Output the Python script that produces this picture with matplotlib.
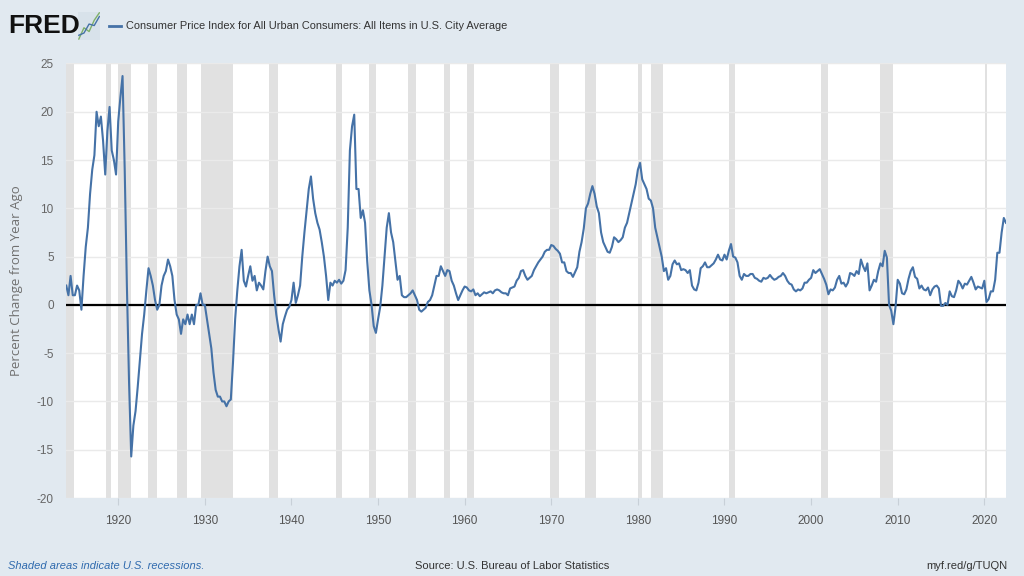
import numpy as np
import matplotlib.pyplot as plt
from matplotlib.lines import Line2D

plt.rcParams["axes.unicode_minus"] = False

# CPI-U, percent change from year ago, quarterly readings (Jan, Apr, Jul, Oct)
first_year = 1914
cpi_yoy = [
    2.0, 1.0, 3.0, 1.0,        # 1914
    1.0, 2.0, 1.5, -0.5,       # 1915
    3.0, 6.0, 8.0, 11.5,       # 1916
    14.0, 15.5, 20.0, 18.5,    # 1917
    19.5, 17.0, 13.5, 18.0,    # 1918
    20.5, 16.0, 15.0, 13.5,    # 1919
    19.0, 21.5, 23.7, 14.0,    # 1920
    2.0, -8.0, -15.7, -12.5,   # 1921
    -11.0, -8.5, -5.7, -3.0,   # 1922
    -1.0, 1.5, 3.8, 3.0,       # 1923
    2.0, 0.5, -0.5, 0.0,       # 1924
    2.0, 3.0, 3.5, 4.7,        # 1925
    4.0, 3.0, 0.5, -1.0,       # 1926
    -1.5, -3.0, -1.5, -2.0,    # 1927
    -1.0, -2.0, -1.0, -2.0,    # 1928
    0.0, 0.0, 1.2, 0.0,        # 1929
    0.0, -1.5, -3.0, -4.5,     # 1930
    -7.0, -8.8, -9.5, -9.5,    # 1931
    -10.0, -10.0, -10.5, -10.0,  # 1932
    -9.8, -6.0, -1.5, 1.5,     # 1933
    4.0, 5.7, 2.5, 1.9,        # 1934
    3.0, 4.0, 2.5, 3.0,        # 1935
    1.5, 2.3, 2.0, 1.6,        # 1936
    3.5, 5.0, 4.0, 3.5,        # 1937
    1.0, -1.0, -2.5, -3.8,     # 1938
    -2.0, -1.2, -0.5, -0.2,    # 1939
    0.5, 2.3, 0.2, 1.0,        # 1940
    2.0, 5.0, 7.5, 9.8,        # 1941
    12.0, 13.3, 11.0, 9.5,     # 1942
    8.5, 7.8, 6.5, 5.0,        # 1943
    3.0, 0.5, 2.3, 2.0,        # 1944
    2.5, 2.3, 2.6, 2.2,        # 1945
    2.5, 3.6, 8.0, 16.0,       # 1946
    18.5, 19.7, 12.0, 12.0,    # 1947
    9.0, 9.8, 8.5, 4.5,        # 1948
    1.5, 0.0, -2.2, -2.9,      # 1949
    -1.5, -0.2, 2.0, 5.0,      # 1950
    8.0, 9.5, 7.5, 6.5,        # 1951
    4.5, 2.6, 3.0, 1.0,        # 1952
    0.8, 0.8, 1.0, 1.2,        # 1953
    1.5, 1.0, 0.5, -0.5,       # 1954
    -0.7, -0.5, -0.3, 0.3,     # 1955
    0.5, 1.0, 2.0, 3.0,        # 1956
    3.0, 4.0, 3.5, 3.0,        # 1957
    3.6, 3.5, 2.5, 2.0,        # 1958
    1.2, 0.5, 1.0, 1.5,        # 1959
    1.9, 1.8, 1.5, 1.4,        # 1960
    1.6, 1.0, 1.2, 0.9,        # 1961
    1.1, 1.3, 1.2, 1.3,        # 1962
    1.4, 1.2, 1.5, 1.6,        # 1963
    1.5, 1.3, 1.2, 1.2,        # 1964
    1.0, 1.7, 1.8, 1.9,        # 1965
    2.5, 2.8, 3.5, 3.6,        # 1966
    3.0, 2.6, 2.8, 3.0,        # 1967
    3.6, 4.0, 4.4, 4.7,        # 1968
    5.0, 5.5, 5.7, 5.7,        # 1969
    6.2, 6.1, 5.8, 5.6,        # 1970
    5.3, 4.4, 4.4, 3.5,        # 1971
    3.3, 3.3, 2.9, 3.4,        # 1972
    3.9, 5.5, 6.5, 7.9,        # 1973
    10.0, 10.5, 11.5, 12.3,    # 1974
    11.5, 10.2, 9.5, 7.5,      # 1975
    6.5, 6.0, 5.5, 5.4,        # 1976
    6.0, 7.0, 6.8, 6.5,        # 1977
    6.7, 7.0, 8.0, 8.5,        # 1978
    9.5, 10.5, 11.5, 12.5,     # 1979
    14.0, 14.7, 13.0, 12.5,    # 1980
    12.0, 11.0, 10.8, 10.0,    # 1981
    8.0, 7.0, 6.0, 5.0,        # 1982
    3.5, 3.8, 2.6, 3.0,        # 1983
    4.2, 4.6, 4.2, 4.3,        # 1984
    3.6, 3.7, 3.6, 3.3,        # 1985
    3.6, 2.0, 1.6, 1.5,        # 1986
    2.3, 3.8, 4.0, 4.4,        # 1987
    3.9, 3.9, 4.1, 4.3,        # 1988
    4.7, 5.2, 4.7, 4.6,        # 1989
    5.2, 4.7, 5.6, 6.3,        # 1990
    5.0, 4.9, 4.4, 3.0,        # 1991
    2.6, 3.2, 3.0, 3.0,        # 1992
    3.2, 3.2, 2.8, 2.7,        # 1993
    2.5, 2.4, 2.8, 2.7,        # 1994
    2.8, 3.1, 2.8, 2.6,        # 1995
    2.7, 2.9, 3.0, 3.3,        # 1996
    3.0, 2.5, 2.2, 2.1,        # 1997
    1.6, 1.4, 1.6, 1.5,        # 1998
    1.7, 2.3, 2.3, 2.6,        # 1999
    2.8, 3.6, 3.3, 3.5,        # 2000
    3.7, 3.2, 2.7, 2.1,        # 2001
    1.1, 1.6, 1.5, 1.8,        # 2002
    2.6, 3.0, 2.2, 2.3,        # 2003
    1.9, 2.3, 3.3, 3.2,        # 2004
    3.0, 3.5, 3.2, 4.7,        # 2005
    4.0, 3.5, 4.3, 1.5,        # 2006
    2.0, 2.6, 2.4, 3.5,        # 2007
    4.3, 4.0, 5.6, 4.9,        # 2008
    0.0, -0.6, -2.0, -0.2,     # 2009
    2.6, 2.2, 1.2, 1.1,        # 2010
    1.6, 2.7, 3.5, 3.9,        # 2011
    2.9, 2.7, 1.7, 2.0,        # 2012
    1.6, 1.5, 1.8, 1.0,        # 2013
    1.6, 1.9, 2.0, 1.7,        # 2014
    -0.1, -0.1, 0.2, 0.0,      # 2015
    1.4, 0.9, 0.8, 1.5,        # 2016
    2.5, 2.2, 1.7, 2.2,        # 2017
    2.1, 2.5, 2.9, 2.3,        # 2018
    1.6, 1.9, 1.8, 1.7,        # 2019
    2.5, 0.3, 0.6, 1.4,        # 2020
    1.4, 2.6, 5.4, 5.4,        # 2021
    7.5, 9.0, 8.5,             # 2022
]
dates = first_year + np.arange(len(cpi_yoy)) / 4

# NBER recessions (decimal years)
rec_start = [1913.6, 1918.6, 1920.0, 1923.4, 1926.8, 1929.6, 1937.4, 1945.1, 1948.9,
             1953.5, 1957.6, 1960.3, 1969.9, 1973.9, 1980.0, 1981.5, 1990.5, 2001.2,
             2007.9, 2020.1]
rec_end = [1914.9, 1919.2, 1921.5, 1924.5, 1927.9, 1933.2, 1938.5, 1945.8, 1949.8,
           1954.4, 1958.3, 1961.1, 1970.9, 1975.2, 1980.5, 1982.9, 1991.2, 2001.9,
           2009.5, 2020.3]

yticks = list(range(-20, 26, 5))
xticks = list(range(1920, 2021, 10))

bg = "#E1E9F0"
line_col = "#4572A7"
sans = ["Liberation Sans", "DejaVu Sans"]

fig = plt.figure(figsize=(10.24, 5.76), dpi=100, facecolor=bg)
ax = fig.add_axes([0.0647, 0.1354, 0.9177, 0.7544])
ax.set_facecolor("white")

for s, e in zip(rec_start, rec_end):
    ax.axvspan(s, e, color="#E1E1E1", lw=0, zorder=0)

ax.plot(dates, cpi_yoy, color=line_col, lw=1.5, zorder=3)
ax.axhline(0, color="black", lw=1.6, zorder=2)

ax.set_xlim(1914.0, 2022.5)
ax.set_ylim(-20, 25)
ax.set_yticks(yticks)
ax.set_xticks(xticks)
ax.grid(axis="y", color="#EAEAEA", lw=1, zorder=1)

for sp in ax.spines.values():
    sp.set_visible(False)
ax.tick_params(axis="y", length=0, pad=9, labelsize=8.5, labelcolor="#666666")
ax.tick_params(axis="x", length=5, color="#C8D0D8", pad=7, labelsize=8.5,
               labelcolor="#555555")
for lab in ax.get_xticklabels() + ax.get_yticklabels():
    lab.set_family(sans)

ax.set_ylabel("Percent Change from Year Ago", fontsize=9.5, color="#707070",
              family=["Open Sans", "DejaVu Sans"])
ax.yaxis.set_label_coords(-0.046, 0.5)

# header
fig.text(0.008, 0.955, "FRED", fontsize=19, fontweight="bold", color="#111111",
         family=sans, va="center")
icon = fig.add_axes([0.076, 0.93, 0.022, 0.05])
icon.set_facecolor("#D8E2EA")
icon.plot([0, 1, 2, 3, 4], [0, 1.5, 1, 2.5, 3.5], color="#7FB069", lw=1)
icon.plot([0, 1, 2, 3, 4], [0.5, 0.8, 2, 1.8, 3], color="#4572A7", lw=1)
icon.set_xticks([])
icon.set_yticks([])
for sp in icon.spines.values():
    sp.set_visible(False)
fig.add_artist(Line2D([0.106, 0.118], [0.955, 0.955], color=line_col, lw=2))
fig.text(0.123, 0.955, "Consumer Price Index for All Urban Consumers: All Items in U.S. City Average",
         fontsize=7.9, color="#333333", family=sans, va="center")

# footer
fig.text(0.008, 0.017, "Shaded areas indicate U.S. recessions.", fontsize=8,
         color="#2F6AAE", style="italic", family=sans, va="center")
fig.text(0.5, 0.017, "Source: U.S. Bureau of Labor Statistics", fontsize=8,
         color="#333333", family=sans, va="center", ha="center")
fig.text(0.944, 0.017, "myf.red/g/TUQN", fontsize=8, color="#333333",
         family=sans, va="center", ha="center")

fig.savefig("out.png", dpi=100, facecolor=bg)
